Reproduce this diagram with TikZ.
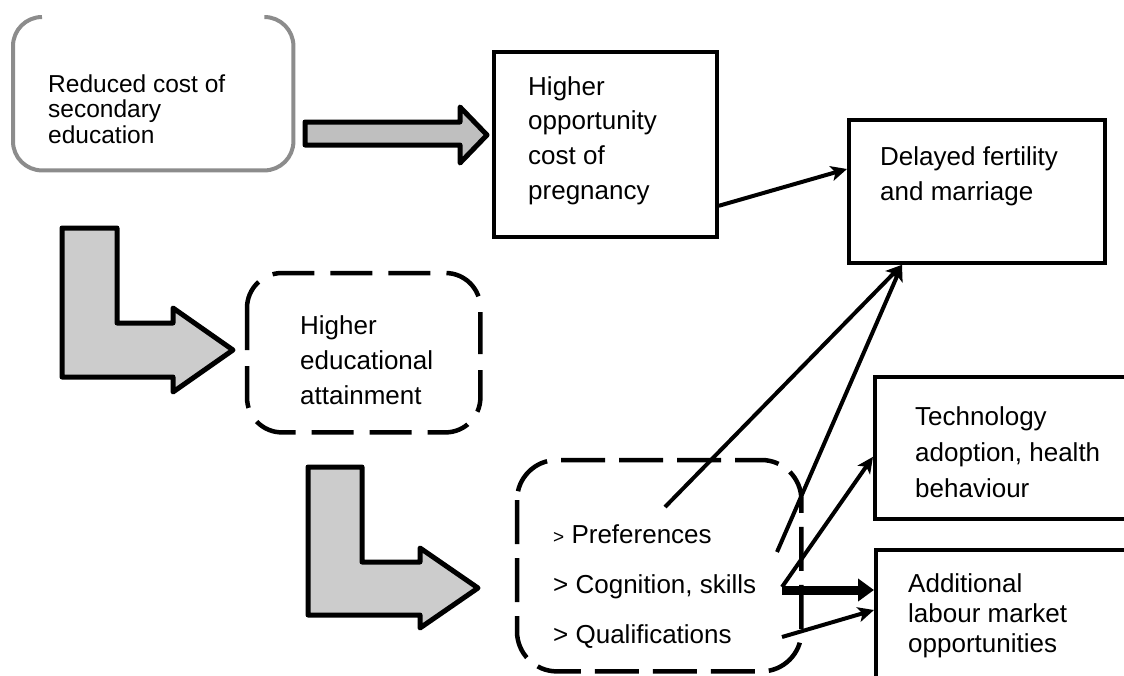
\documentclass[tikz,border=0pt]{standalone}
\usepackage{fontspec}
\setmainfont{Liberation Sans}
\usetikzlibrary{arrows.meta}
\newcommand{\boxtext}[3]{\parbox[t]{240pt}{\fontsize{#1}{#2}\selectfont #3}}
\begin{document}
\begin{tikzpicture}[x=1pt,y=-1pt,
  box/.style={draw=black, line width=3.8pt, fill=white, inner sep=0pt, anchor=north west},
  ghost/.style={inner sep=0pt, anchor=north west},
  dbox/.style={draw=black, line width=4.5pt, dash pattern=on 42pt off 16pt, rounded corners=35pt},
  blkA/.style={draw=black, line width=5pt, fill=black!25, line join=round},
  blkB/.style={draw=black, line width=5pt, fill=black!20, line join=round},
  conn/.style={line width=4pt, -{Stealth[length=16pt,width=15pt,inset=4pt]}},
  thick/.style={line width=9pt, -{Triangle[length=16pt,width=22pt]}},
  lbl/.style={inner sep=0pt, anchor=base west}]
\useasboundingbox (0,0) rectangle (1124,675);
\clip (0,0) rectangle (1124,675);

% box 1 (grey, top edge open between corners)
\node[ghost, minimum width=280pt, minimum height=153pt] (b1) at (13,17) {};
\draw[black!45, line width=4pt]
  ([xshift=29pt]b1.north west) arc[start angle=90, end angle=180, radius=29pt]
  -- ([yshift=29pt]b1.south west) arc[start angle=180, end angle=270, radius=29pt]
  -- ([xshift=-29pt]b1.south east) arc[start angle=270, end angle=360, radius=29pt]
  -- ([yshift=-29pt]b1.north east) arc[start angle=0, end angle=90, radius=29pt];
\node[lbl] (t1) at (48,92) {\boxtext{24.5}{25.5}{Reduced cost of\\secondary\\education}};

% box 2
\node[box, minimum width=223pt, minimum height=185pt] (b2) at (492,50) {};
\node[lbl] (t2) at (528,95) {\boxtext{26}{34.7}{Higher\\opportunity\\cost of\\pregnancy}};

% box 3
\node[box, minimum width=256pt, minimum height=143pt] (b3) at (847,118) {};
\node[lbl] (t3) at (880,165) {\boxtext{26}{35}{Delayed fertility\\and marriage}};

% box 4 (dashed rounded)
\node[ghost, minimum width=233pt, minimum height=159pt] (b4) at (247,273) {};
\draw[dbox] (b4.north west) rectangle (b4.south east);
\node[lbl] (t4) at (300,334) {\boxtext{26}{35}{Higher\\educational\\attainment}};

% box 5 (dashed rounded)
\node[ghost, minimum width=284pt, minimum height=211pt] (b5) at (517,460) {};
\draw[dbox, dash pattern=on 44pt off 14pt, rounded corners=40pt] (b5.north west) rectangle (b5.south east);
\node[lbl] (t5) at (553,543) {\boxtext{26}{50}{{\fontsize{19}{19}\selectfont >} Preferences\\> Cognition, skills\\> Qualifications}};

% box 6
\node[box, minimum width=300pt, minimum height=142pt] (b6) at (873,375) {};
\node[lbl] (t6) at (915,425) {\boxtext{26}{36}{Technology\\adoption, health\\behaviour}};

% box 7
\node[box, minimum width=300pt, minimum height=200pt] (b7) at (874,548) {};
\node[lbl] (t7) at (908,592) {\boxtext{26}{30}{Additional\\labour market\\opportunities}};

% block arrows
\draw[blkA] (305,122) -- (460,122) -- (460,107) -- (487,135) -- (460,163) -- (460,145) -- (305,145) -- cycle;
\draw[blkB] (62,228) -- (117,228) -- (117,323) -- (173,323) -- (173,308) -- (233,350) -- (173,392) -- (173,377) -- (62,377) -- cycle;
\draw[blkB] (308,467) -- (362,467) -- (362,562) -- (420,562) -- (420,548) -- (478,588) -- (420,628) -- (420,615) -- (308,615) -- cycle;

% connectors
\coordinate (s1) at (665,507);
\coordinate (s2) at (777,552);
\coordinate (s3) at (782,587);
\coordinate (s4) at (782,590);
\coordinate (s5) at (782,637);
\draw[conn] ([yshift=33pt]b2.south east) -- ([yshift=-51pt]b3.north west);
\draw[conn] (s1) -- ([xshift=55pt]b3.south west);
\draw[conn] (s2) -- ([xshift=55pt]b3.south west);
\draw[conn] (s3) -- ([yshift=64pt]b6.south west);
\draw[thick] (s4) -- ([yshift=-42pt]b7.north west);
\draw[conn] (s5) -- ([yshift=-62pt]b7.north west);
\end{tikzpicture}
\end{document}
